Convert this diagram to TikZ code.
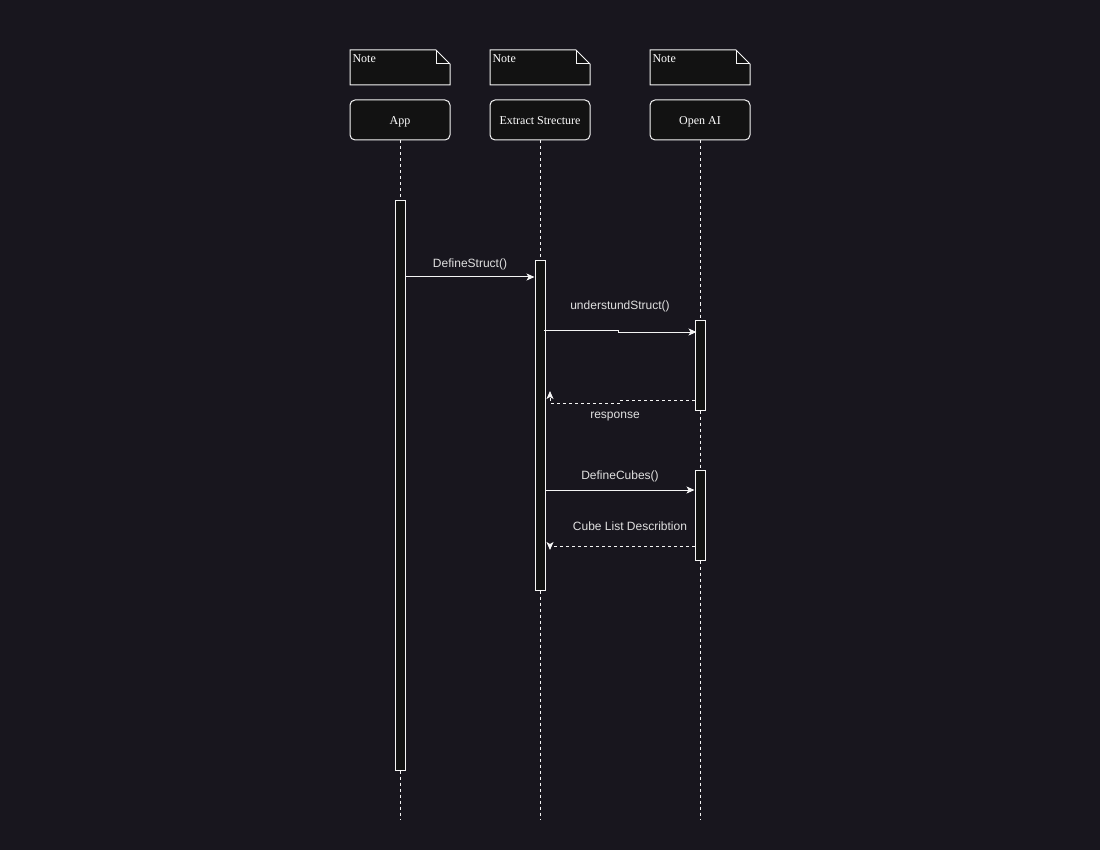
\documentclass[tikz,border=0pt]{standalone}
\usepackage{fontspec}
\setmainfont{Liberation Serif}
\newfontfamily\lsans{Liberation Sans}
\usetikzlibrary{arrows.meta}
\definecolor{bg}{HTML}{18161E}
\definecolor{boxfill}{HTML}{121212}
\definecolor{ln}{HTML}{F4F4F4}
\definecolor{lbl}{HTML}{E0E0E0}
\begin{document}
\begin{tikzpicture}[x=1pt,y=-1pt,line width=1pt,
  actor/.style={draw=ln, fill=boxfill, rounded corners=5pt, minimum width=100pt, minimum height=40pt, text=white, font=\fontsize{12}{14}\selectfont, inner sep=0pt, text height=9pt, text depth=0pt},
  notebox/.style={draw=ln, fill=boxfill, line join=miter},
  notetext/.style={text=white, font=\fontsize{12}{14}\selectfont, inner sep=1pt, anchor=north west},
  bar/.style={draw=ln, fill=boxfill, minimum width=10pt, inner sep=0pt},
  lifeline/.style={draw=ln, dash pattern=on 3pt off 3pt, line width=0.9pt},
  msg/.style={draw=ln, -{Stealth[length=8pt,width=7pt,inset=2pt]}},
  ret/.style={msg, dash pattern=on 3pt off 3pt},
  mlabel/.style={text=lbl, font=\lsans\fontsize{12}{14}\selectfont, inner sep=0pt}]
\fill[bg] (0,0) rectangle (1100,850);
\useasboundingbox (0,0) rectangle (1100,850);

% notes
\foreach \x/\n in {350/na,490/nb,650/nc}{
  \draw[notebox] (\x,50) -- ++(86,0) -- ++(14,14) -- ++(0,21) -- ++(-100,0) -- cycle;
  \draw[ln] (\x+86,50) -- ++(0,14) -- ++(14,0);
  \node[notetext] (\n) at (\x+1,53.5) {Note};
}

% actors
\node[actor] (app) at (400,120) {App};
\node[actor] (es) at (540,120) {Extract Strecture};
\node[actor] (oa) at (700,120) {Open AI};

% lifeline ends
\coordinate (append) at (400,820);
\coordinate (esend) at (540,820);
\coordinate (oaend) at (700,820);
\draw[lifeline] (app.south) -- (append);
\draw[lifeline] (es.south) -- (esend);
\draw[lifeline] (oa.south) -- (oaend);

% activation bars
\node[bar, minimum height=570pt, anchor=north] (appbar) at (400,200) {};
\node[bar, minimum height=330pt, anchor=north] (esbar) at (540,260) {};
\node[bar, minimum height=90pt, anchor=north] (oa1) at (700,320) {};
\node[bar, minimum height=90pt, anchor=north] (oa2) at (700,470) {};

% messages
\draw[msg] (appbar.east |- 0,277) -- (esbar.west |- 0,277);
\node[mlabel] (l1) at (470,264.5) {DefineStruct()};

\draw[msg] ([xshift=-2pt]esbar.east |- 0,330) -- (618,330) -- (618,332) -- ([xshift=2pt]oa1.west |- 0,332);
\node[mlabel] (l2) at (620,306.5) {understundStruct()};

\draw[ret] (oa1.west |- 0,400) -- (620,400) -- (620,403) -- (550,403) -- (550,391);
\node[mlabel] (l3) at (615,416.5) {response};

\draw[msg] (esbar.east |- 0,490) -- (oa2.west |- 0,490);
\node[mlabel] (l4) at (620,476.5) {DefineCubes()};

\draw[ret] (oa2.west |- 0,546) -- (550,546) -- (550,550);
\node[mlabel] (l5) at (630,526.5) {Cube List Describtion};
\end{tikzpicture}
\end{document}
